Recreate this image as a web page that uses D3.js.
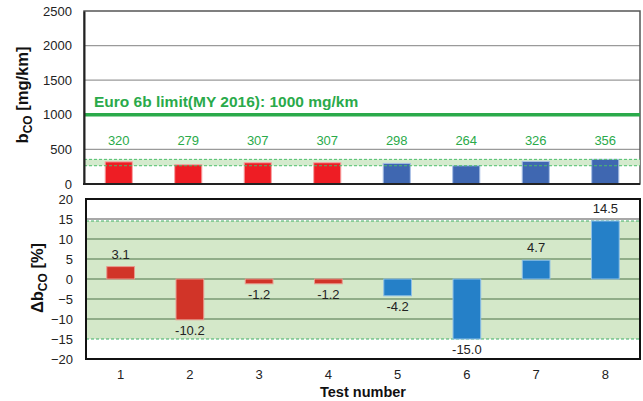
<!DOCTYPE html>
<html><head><meta charset="utf-8">
<script src="https://cdn.jsdelivr.net/npm/d3@7"></script>
<style>body{margin:0;background:#fff}svg{display:block;font-family:Arial,"Liberation Sans",sans-serif}</style>
</head><body>
<svg id="c" width="643" height="401"></svg>
<script>
const tests = ["1","2","3","4","5","6","7","8"];
const bco = [320, 279, 307, 307, 298, 264, 326, 356];
const dbco = [3.1, -10.2, -1.2, -1.2, -4.2, -15.0, 4.7, 14.5];
const group = ["A","A","A","A","B","B","B","B"];
const limitValue = 1000;
const limitLabel = "Euro 6b limit(MY 2016): 1000 mg/km";
const topTicks = [0, 500, 1000, 1500, 2000, 2500];
const botTicks = [-20, -15, -10, -5, 0, 5, 10, 15, 20];

const svg = d3.select("#c");
const green = "#2aaa4a";
const FF = "Arial,'Liberation Sans',sans-serif";

// ---------- top panel ----------
const xT = d3.scaleBand().domain(tests).range([84, 640]).paddingInner(0.61).paddingOuter(0.305);
const yT = d3.scaleLinear().domain([0, 2500]).range([184, 11]);
const topColor = {A:"#ee1d24", B:"#3f67b1"};
const topEdge = {A:"#f6a3a3", B:"#a9c0e6"};

const gT = svg.append("g");
gT.selectAll("line.grid").data([500,1500,2000]).join("line")
  .attr("x1",84).attr("x2",640).attr("y1",d=>yT(d)).attr("y2",d=>yT(d))
  .attr("stroke","#9a9a9a").attr("stroke-width",1.3);
gT.append("rect").attr("x",84).attr("y",yT(2500)).attr("width",556).attr("height",yT(0)-yT(2500))
  .attr("fill","none").attr("stroke","#555").attr("stroke-width",1.5);
const tMin = d3.min(bco), tMax = d3.max(bco);
gT.append("rect").attr("x",84).attr("width",556).attr("y",yT(tMax)).attr("height",yT(tMin)-yT(tMax))
  .attr("fill","#cfe8c8").attr("opacity",0.9);
gT.selectAll("rect.bar").data(bco).join("rect")
  .attr("x",(d,i)=>xT(tests[i])).attr("width",xT.bandwidth())
  .attr("y",d=>yT(d)).attr("height",d=>yT(0)-yT(d))
  .attr("fill",(d,i)=>topColor[group[i]]).attr("stroke",(d,i)=>topEdge[group[i]]).attr("stroke-width",1);
gT.selectAll("line.band").data([tMin,tMax]).join("line")
  .attr("x1",84).attr("x2",640).attr("y1",d=>yT(d)).attr("y2",d=>yT(d))
  .attr("stroke","#4cbf6a").attr("stroke-width",1).attr("stroke-dasharray","3,2");
gT.append("line").attr("x1",84).attr("x2",640).attr("y1",yT(limitValue)).attr("y2",yT(limitValue))
  .attr("stroke",green).attr("stroke-width",3.5);
gT.append("text").attr("x",94).attr("y",yT(limitValue)-8).text(limitLabel)
  .attr("fill",green).attr("font-weight","bold").attr("font-size",15.5);
gT.selectAll("text.val").data(bco).join("text")
  .attr("x",(d,i)=>xT(tests[i])+xT.bandwidth()/2).attr("y",145)
  .attr("text-anchor","middle").attr("font-size",13).attr("fill",green).text(d=>d);
const axT = d3.axisLeft(yT).tickValues(topTicks).tickFormat(d3.format("d")).tickSize(0).tickPadding(12);
const gax = svg.append("g").attr("transform","translate(84,0)").call(axT);
gax.select(".domain").attr("stroke","#222").attr("stroke-width",2);
gax.selectAll("text").attr("font-size",13).attr("fill","#222").attr("font-family",FF);
svg.append("line").attr("x1",83).attr("x2",640).attr("y1",yT(0)).attr("y2",yT(0)).attr("stroke","#222").attr("stroke-width",2);
const t1 = svg.append("text").attr("transform","translate(28,95) rotate(-90)").attr("text-anchor","middle")
  .attr("font-weight","bold").attr("font-size",16.5).attr("fill","#111");
t1.append("tspan").text("b");
t1.append("tspan").attr("font-size",12).attr("dy",4).text("CO");
t1.append("tspan").attr("dy",-4).text(" [mg/km]");

// ---------- bottom panel ----------
const xB = d3.scaleBand().domain(tests).range([86, 640]).paddingInner(0.6).paddingOuter(0.3);
const yB = d3.scaleLinear().domain([-20, 20]).range([359, 199]);
const botColor = {A:"#d13428", B:"#2580c8"};
const botEdge = {A:"#e89a8e", B:"#8fc0e6"};
const bMin = d3.min(dbco), bMax = d3.max(dbco);
const gB = svg.append("g");
gB.append("rect").attr("x",86).attr("width",554).attr("y",yB(bMax)).attr("height",yB(bMin)-yB(bMax))
  .attr("fill","#d4e8c9");
gB.selectAll("line.grid").data([15]).join("line")
  .attr("x1",86).attr("x2",640).attr("y1",d=>yB(d)).attr("y2",d=>yB(d))
  .attr("stroke","#8a8a8a").attr("stroke-width",1.3);
gB.selectAll("line.ggrid").data([10,5,0,-5,-10]).join("line")
  .attr("x1",86).attr("x2",640).attr("y1",d=>yB(d)).attr("y2",d=>yB(d))
  .attr("stroke","#7a9a72").attr("stroke-width",1.4);
gB.selectAll("line.band").data([bMin,bMax]).join("line")
  .attr("x1",86).attr("x2",640).attr("y1",d=>yB(d)).attr("y2",d=>yB(d))
  .attr("stroke","#3fae64").attr("stroke-width",1).attr("stroke-dasharray","3,2");
gB.selectAll("rect.bar").data(dbco).join("rect")
  .attr("x",(d,i)=>xB(tests[i])).attr("width",xB.bandwidth())
  .attr("y",d=>yB(Math.max(0,d))).attr("height",d=>Math.abs(yB(d)-yB(0)))
  .attr("fill",(d,i)=>botColor[group[i]]).attr("stroke",(d,i)=>botEdge[group[i]]).attr("stroke-width",1);
gB.selectAll("text.val").data(dbco).join("text")
  .attr("x",(d,i)=>xB(tests[i])+xB.bandwidth()/2)
  .attr("y",d=> d>=0 ? yB(d)-8 : yB(d)+15)
  .attr("text-anchor","middle").attr("font-size",13).attr("fill","#222").text(d=>d.toFixed(1));
gB.append("rect").attr("x",86).attr("y",199).attr("width",554).attr("height",160)
  .attr("fill","none").attr("stroke","#111").attr("stroke-width",2);
const axB = d3.axisLeft(yB).tickValues(botTicks).tickSize(0).tickPadding(13);
const gbx = svg.append("g").attr("transform","translate(86,0)").call(axB);
gbx.select(".domain").remove();
gbx.selectAll("text").attr("font-size",13).attr("fill","#222").attr("font-family",FF);
const axX = d3.axisBottom(xB).tickSize(0).tickPadding(11);
const gxx = svg.append("g").attr("transform","translate(0,359)").call(axX);
gxx.select(".domain").remove();
gxx.selectAll("text").attr("font-size",13).attr("fill","#222").attr("font-family",FF);
svg.append("text").attr("x",363).attr("y",397).attr("text-anchor","middle")
  .attr("font-weight","bold").attr("font-size",14.5).attr("fill","#111").text("Test number");
const t2 = svg.append("text").attr("transform","translate(43,278) rotate(-90)").attr("text-anchor","middle")
  .attr("font-weight","bold").attr("font-size",16.5).attr("fill","#111");
t2.append("tspan").text("Δb");
t2.append("tspan").attr("font-size",12).attr("dy",4).text("CO");
t2.append("tspan").attr("dy",-4).text(" [%]");
</script>
</body></html>
